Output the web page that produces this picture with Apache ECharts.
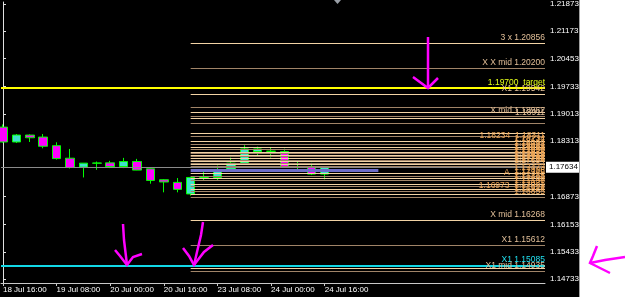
<!DOCTYPE html>
<html><head><meta charset="utf-8">
<script src="https://cdn.jsdelivr.net/npm/echarts@6/dist/echarts.min.js"></script>
<style>html,body{margin:0;padding:0;background:#fff}#c{width:625px;height:297px}</style>
</head><body><div id="c"></div>
<script>
// ---- data ----
const categories = ['18 Jul 16:00','18 Jul 20:00','19 Jul 00:00','19 Jul 04:00','19 Jul 08:00','19 Jul 12:00','19 Jul 16:00','19 Jul 20:00','20 Jul 00:00','20 Jul 04:00','20 Jul 08:00','20 Jul 12:00','20 Jul 16:00','20 Jul 20:00','23 Jul 00:00','23 Jul 04:00','23 Jul 08:00','23 Jul 12:00','23 Jul 16:00','23 Jul 20:00','24 Jul 00:00','24 Jul 04:00','24 Jul 08:00','24 Jul 12:00','24 Jul 16:00'];
const opens  = [1.18677,1.18291,1.18471,1.18419,1.18195,1.17870,1.17638,1.17745,1.17749,1.17654,1.17783,1.17595,1.17311,1.17242,1.16942,1.17372,1.17370,1.17587,1.17742,1.18041,1.18052,1.18041,1.17648,1.17646,1.17458];
const closes = [1.18291,1.18471,1.18401,1.18180,1.17860,1.17628,1.17742,1.17740,1.17654,1.17783,1.17561,1.17293,1.17252,1.17061,1.17370,1.17368,1.17577,1.17742,1.18110,1.18110,1.18048,1.17646,1.17644,1.17458,1.17634];
const lows   = [1.18273,1.18265,1.18291,1.18128,1.17834,1.17602,1.17370,1.17569,1.17613,1.17613,1.17558,1.17208,1.16984,1.16984,1.16899,1.17303,1.17285,1.17561,1.17716,1.17904,1.17886,1.17640,1.17543,1.17432,1.17319];
const highs  = [1.18747,1.18497,1.18489,1.18497,1.18283,1.18110,1.17745,1.17783,1.17801,1.17878,1.17852,1.17600,1.17329,1.17355,1.17388,1.17525,1.17680,1.17886,1.18206,1.18170,1.18162,1.18118,1.17783,1.17749,1.17646];
const yTicks = [1.21873,1.21173,1.20453,1.19733,1.19013,1.18313,1.16873,1.16153,1.15433,1.14733];
const xTickIdx = [0,4,8,12,16,20,24];
const levelStartIdx = 14;
const levelValues = [1.20856,1.20200,1.19542,1.19180,1.19072,1.18962,1.18911,1.18773,1.18520,1.18445,
  1.18311,1.18234,1.18144,1.18092,1.18033,1.17994,1.17956,1.17912,1.17878,1.17819,1.17783,1.17742,1.17705,1.17654,
  1.17473,1.17406,1.17345,1.17285,1.17200,1.17138,1.17071,1.17002,1.16924,1.16855,
  1.16268,1.15612,1.15009,1.14935];
const levelLabels = ['3 x 1.20856','X X mid 1.20200','X1 1.19542','','','X mid 1.18962','1.18911','','','',
  '1.18234  1.18311','1.18234','1.18144','1.18092','1.18033','1.17994','1.17956','1.17912','1.17878','1.17819','1.17783','1.17742','1.17705','1.17654',
  '1.17473','1.17406','A  1.17345','1.17285','1.17200','1.17138','1.17071','1.16973  1.17002','1.16924','1.16855',
  'X mid 1.16268','X1 1.15612','','X1 mid 1.14935'];
const targetValue = 1.19700, targetLabel = '1.19700  target';
const x1Value = 1.15085, x1Label = 'X1 1.15085';
const bandValue = 1.17569, bandEndIdx = 28;

// ---- style / layout ----
const X_MIN = -0.149, X_MAX = 40.43;
const FONT = 'Liberation Sans';
const lineCols = ['#f2d3a5', '#a08468'];

const candleData = categories.map((c,i)=>[i, opens[i], closes[i], lows[i], highs[i]]);
const lastClose = closes[closes.length-1];

const levelMarks = levelValues.map((v,i)=>[
  {coord:[levelStartIdx, v], lineStyle:{color: lineCols[i%2], width:1, type:'solid'},
   label:{show: !!levelLabels[i], formatter: levelLabels[i], position:'insideEndTop', distance:[0,1],
          color: i>=10 && i<34 ? '#f0a858' : '#e2bf98', fontSize:8.5, fontFamily:FONT}},
  {coord:[X_MAX, v]}
]);
levelMarks.push([
  {coord:[levelStartIdx, bandValue], lineStyle:{color:'#6c6cc8', width:3, type:'solid'}, label:{show:false}},
  {coord:[bandEndIdx, bandValue]}
]);
const fullMarks = [
  [{coord:[X_MIN, lastClose], lineStyle:{color:'#8a8a8a', width:1, type:'solid'},
    label:{show:true, position:'end', distance:1, formatter:lastClose.toFixed(5), backgroundColor:'#fff', color:'#000', padding:[2,4,1,3], fontSize:8, fontFamily:FONT}},
   {coord:[X_MAX, lastClose]}],
  [{coord:[X_MIN, targetValue], lineStyle:{color:'#ffff00', width:2, type:'solid'},
    label:{show:true, position:'insideEndTop', distance:[0,1], formatter:targetLabel, color:'#e4ff1a', fontSize:8.5, fontFamily:FONT}},
   {coord:[X_MAX, targetValue]}],
  [{coord:[X_MIN, x1Value], lineStyle:{color:'#12d8e6', width:2, type:'solid'},
    label:{show:true, position:'insideEndTop', distance:[0,1], formatter:x1Label, color:'#20e0f0', fontSize:8.5, fontFamily:FONT}},
   {coord:[X_MAX, x1Value]}]
];

const option = {
  backgroundColor:'#000',
  animation:false,
  grid:{left:0, right:80, top:0, bottom:14},
  xAxis:{type:'value', min:X_MIN, max:X_MAX, position:'bottom',
    splitLine:{show:false},
    axisLine:{show:true, onZero:false, lineStyle:{color:'#c8c8c8', width:1}},
    axisTick:{show:true, length:3, customValues:xTickIdx, lineStyle:{color:'#c8c8c8'}},
    axisLabel:{show:true, customValues:xTickIdx, formatter:v=>categories[Math.round(v)], align:'left', margin:3,
      color:'#fff', fontSize:8, fontFamily:FONT}},
  yAxis:{type:'value', position:'right', min:1.14630, max:1.21925,
    splitLine:{show:false},
    axisLine:{show:true, lineStyle:{color:'#e0e0e0', width:1}},
    axisTick:{show:true, length:3, customValues:yTicks, lineStyle:{color:'#e0e0e0'}},
    axisLabel:{show:true, customValues:yTicks, formatter:v=>v.toFixed(5), margin:5, color:'#fff', fontSize:8, fontFamily:FONT}},
  series:[
    {type:'candlestick', data:candleData, barWidth:9, z:2,
      itemStyle:{color:'#40e2cc', color0:'#ff00ff', borderColor:'#00ff00', borderColor0:'#00ff00', borderColorDoji:'#00ff00', borderWidth:1}},
    {type:'line', data:[], z:5, silent:true,
      markLine:{symbol:'none', silent:true, animation:false, data: fullMarks.concat(levelMarks)}}
  ],
  graphic:[
    {type:'rect', shape:{x:580, y:0, width:45, height:297}, style:{fill:'#fff'}, z:100},
    {type:'line', shape:{x1:579.5, y1:0, x2:579.5, y2:297}, style:{stroke:'#a0a0a0', lineWidth:1}, z:101},
    {type:'polygon', shape:{points:[[334,0],[341,0],[337.5,4]]}, style:{fill:'#9aa0a8'}, z:101},
    {type:'polyline', shape:{points:[[428,37],[428,87]]}, style:{stroke:'#ff00ff', lineWidth:2.5, fill:null}, z:102},
    {type:'polyline', shape:{points:[[413,77],[428,88],[438,78]]}, style:{stroke:'#ff00ff', lineWidth:2.5, fill:null}, z:102},
    {type:'polyline', shape:{points:[[123,224],[124,240],[127,265]]}, style:{stroke:'#ff00ff', lineWidth:2.5, fill:null}, z:102},
    {type:'polyline', shape:{points:[[115,250],[120,256],[127,265],[133,257],[142,254]]}, style:{stroke:'#ff00ff', lineWidth:2.5, fill:null}, z:102},
    {type:'polyline', shape:{points:[[203,222],[201,235],[197,252],[194,265]]}, style:{stroke:'#ff00ff', lineWidth:2.5, fill:null}, z:102},
    {type:'polyline', shape:{points:[[183,248],[189,256],[194,265],[204,252],[213,245]]}, style:{stroke:'#ff00ff', lineWidth:2.5, fill:null}, z:102},
    {type:'polyline', shape:{points:[[597,246],[593,256],[590,263],[600,268],[610,273]]}, style:{stroke:'#ff00ff', lineWidth:2.5, fill:null}, z:102},
    {type:'polyline', shape:{points:[[590,263],[605,260],[625,257]]}, style:{stroke:'#ff00ff', lineWidth:2.5, fill:null}, z:102}
  ]
};
const chart = echarts.init(document.getElementById('c'), null, {renderer:'canvas'});
chart.setOption(option);
</script></body></html>
